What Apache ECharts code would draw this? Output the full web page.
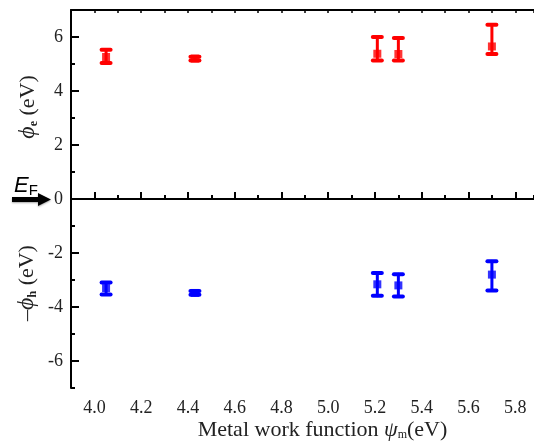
<!DOCTYPE html>
<html>
<head>
<meta charset="utf-8">
<script src="https://cdn.jsdelivr.net/npm/echarts@6/dist/echarts.min.js"></script>
<style>
  html, body { margin: 0; padding: 0; background: #fff; }
  #charts { width: 534px; height: 442px; }
</style>
</head>
<body>
<div id="charts"></div>
<script>
// metal work function of each contact
const workFn = [4.05, 4.43, 5.21, 5.30, 5.70]
// electron barrier phi_e, with error range
const phiE = [5.26, 5.20, 5.38, 5.37, 5.65]
const phiELow = [5.04, 5.13, 5.13, 5.13, 5.37]
const phiEHigh = [5.53, 5.27, 6.00, 5.96, 6.45]
// hole barrier -phi_h, with error range
const phiH = [-3.30, -3.48, -3.16, -3.20, -2.80]
const phiHLow = [-3.54, -3.55, -3.58, -3.61, -3.39]
const phiHHigh = [-3.09, -3.41, -2.74, -2.79, -2.31]

const xTicks = [4.0, 4.2, 4.4, 4.6, 4.8, 5.0, 5.2, 5.4, 5.6, 5.8]
const yTicks = [-6, -4, -2, 0, 2, 4, 6]

const serif = 'Liberation Serif'
const sans = 'Liberation Sans'

function pts(vals) {
  return workFn.map((x, i) => [x, vals[i]])
}
function bars(lo, hi) {
  return workFn.map((x, i) => [x, lo[i], hi[i]])
}
function onTick(list, v) {
  return list.some(t => Math.abs(t - v) < 1e-6)
}

function errorBar(color) {
  return function (params, api) {
    const top = api.coord([api.value(0), api.value(2)])
    const bot = api.coord([api.value(0), api.value(1)])
    const w = 4.5
    const style = { stroke: color, lineWidth: 3, lineCap: 'round' }
    return {
      type: 'group',
      children: [
        { type: 'line', shape: { x1: top[0], y1: top[1], x2: bot[0], y2: bot[1] }, style },
        { type: 'line', shape: { x1: top[0] - w, y1: top[1], x2: top[0] + w, y2: top[1] }, style: { ...style, lineWidth: 4 } },
        { type: 'line', shape: { x1: bot[0] - w, y1: bot[1], x2: bot[0] + w, y2: bot[1] }, style: { ...style, lineWidth: 4 } },
      ],
    }
  }
}

const option = {
  animation: false,
  grid: { left: 71, right: 0, top: 10, bottom: 54, outerBoundsMode: 'none', containLabel: false },
  xAxis: [
    {
      type: 'value', min: 3.9, max: 5.88, position: 'bottom',
      axisLine: { lineStyle: { color: '#000', width: 2 } },
      axisTick: { inside: true, length: 7, customValues: xTicks, lineStyle: { color: '#000', width: 2 } },
      axisLabel: { show: false },
      splitLine: { show: false },
      name: 'Metal work function {i|ψ}{s|m}(eV)',
      nameLocation: 'middle', nameGap: 31,
      nameTextStyle: {
        color: '#222', fontFamily: serif, fontSize: 22, padding: [0, 0, 0, 40],
        rich: {
          i: { fontFamily: serif, fontStyle: 'italic', fontSize: 22, color: '#222' },
          s: { fontFamily: serif, fontSize: 12, color: '#222', verticalAlign: 'bottom', padding: [10, 0, 0, 0] },
        },
      },
    },
    {
      type: 'value', min: 3.9, max: 5.88, interval: 0.1, position: 'bottom',
      axisLine: { show: false },
      axisTick: { inside: true, length: 4, lineStyle: { color: '#000', width: 2 } },
      axisLabel: {
        formatter: v => onTick(xTicks, v) ? v.toFixed(1) : '',
        color: '#222', fontFamily: serif, fontSize: 18, margin: 11,
        showMinLabel: true, showMaxLabel: true,
      },
      splitLine: { show: false },
    },
    {
      type: 'value', min: 3.9, max: 5.88, interval: 0.1, position: 'top',
      axisLine: { lineStyle: { color: '#000', width: 2 } },
      axisTick: { inside: true, length: 3, lineStyle: { color: '#000', width: 1.5 } },
      axisLabel: { show: false }, splitLine: { show: false },
    },
  ],
  yAxis: [
    {
      type: 'value', min: -7, max: 7, position: 'left',
      axisLine: { lineStyle: { color: '#000', width: 2 } },
      axisTick: { inside: true, length: 8, customValues: yTicks, lineStyle: { color: '#000', width: 2 } },
      axisLabel: { show: false },
      splitLine: { show: false },
    },
    {
      type: 'value', min: -7, max: 7, interval: 1, position: 'left',
      axisLine: { show: false },
      axisTick: { inside: true, length: 4, lineStyle: { color: '#000', width: 2 } },
      axisLabel: {
        formatter: v => onTick(yTicks, v) ? String(v) : '',
        color: '#222', fontFamily: serif, fontSize: 18, margin: 8,
      },
      splitLine: { show: false },
    },
  ],
  series: [
    {
      type: 'custom', renderItem: errorBar('#ff0000'), data: bars(phiELow, phiEHigh), z: 3,
      markLine: {
        silent: true, symbol: 'none', label: { show: false },
        lineStyle: { color: '#000', width: 2, type: 'solid' },
        data: [{ yAxis: 0 }],
      },
    },
    { type: 'custom', renderItem: errorBar('#0000ff'), data: bars(phiHLow, phiHHigh), z: 3 },
    { type: 'scatter', data: pts(phiE), symbol: 'rect', symbolSize: 8, itemStyle: { color: '#ff0000' }, z: 4 },
    { type: 'scatter', data: pts(phiH), symbol: 'rect', symbolSize: 8, itemStyle: { color: '#0000ff' }, z: 4 },
  ],
  graphic: [
    {
      type: 'text', x: 28, y: 107, rotation: Math.PI / 2,
      style: {
        text: '{i|ϕ}{s|e} (eV)', fill: '#222', font: '22px ' + serif, align: 'center', verticalAlign: 'middle',
        rich: {
          i: { fontFamily: serif, fontStyle: 'italic', fontSize: 24, fill: '#222' },
          s: { fontFamily: serif, fontSize: 12, fontWeight: 'bold', fill: '#222', verticalAlign: 'bottom', padding: [10, 0, 0, 0] },
        },
      },
    },
    {
      type: 'text', x: 27, y: 283, rotation: Math.PI / 2,
      style: {
        text: '–{i|ϕ}{s|h} (eV)', fill: '#222', font: '22px ' + serif, align: 'center', verticalAlign: 'middle',
        rich: {
          i: { fontFamily: serif, fontStyle: 'italic', fontSize: 24, fill: '#222' },
          s: { fontFamily: serif, fontSize: 12, fontWeight: 'bold', fill: '#222', verticalAlign: 'bottom', padding: [10, 0, 0, 0] },
        },
      },
    },
    {
      type: 'text', x: 14, y: 186,
      style: {
        text: '{e|E}{f|F}', verticalAlign: 'middle',
        rich: {
          e: { fontFamily: sans, fontStyle: 'italic', fontSize: 22, fill: '#000' },
          f: { fontFamily: sans, fontSize: 15, fill: '#000', verticalAlign: 'bottom', padding: [10, 0, 0, 0] },
        },
      },
    },
    {
      type: 'polygon',
      shape: { points: [[12, 197], [38, 197], [38, 193], [51, 199.5], [38, 206], [38, 202], [12, 202]] },
      style: { fill: '#000', shadowColor: 'rgba(0,0,0,0.35)', shadowBlur: 2, shadowOffsetY: 1 },
    },
  ],
}

const charts = echarts.init(document.getElementById('charts'))
charts.setOption(option)
</script>
</body>
</html>
